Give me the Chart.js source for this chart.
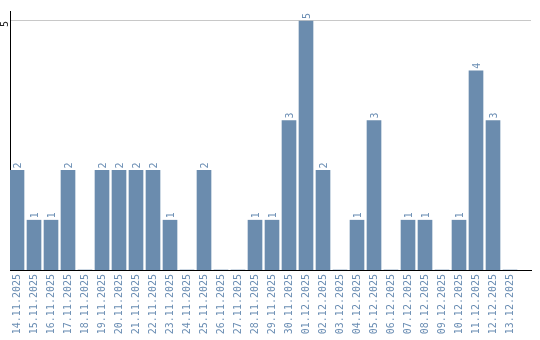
<!DOCTYPE html>
<html>
<head>
<meta charset="utf-8">
<script src="https://cdn.jsdelivr.net/npm/chart.js@4"></script>
<style>
  html, body { margin: 0; padding: 0; background: #fff; }
  #wrap { width: 540px; height: 340px; }
</style>
</head>
<body>
<div id="wrap"><canvas id="chart"></canvas></div>
<script>
const days = [
    "14.11.2025", "15.11.2025", "16.11.2025", "17.11.2025", "18.11.2025",
    "19.11.2025", "20.11.2025", "21.11.2025", "22.11.2025", "23.11.2025",
    "24.11.2025", "25.11.2025", "26.11.2025", "27.11.2025", "28.11.2025",
    "29.11.2025", "30.11.2025", "01.12.2025", "02.12.2025", "03.12.2025",
    "04.12.2025", "05.12.2025", "06.12.2025", "07.12.2025", "08.12.2025",
    "09.12.2025", "10.12.2025", "11.12.2025", "12.12.2025", "13.12.2025"
];
const counts = [2, 1, 1, 2, 0, 2, 2, 2, 2, 1, 0, 2, 0, 0, 1, 1, 3, 5, 2, 0, 1, 3, 0, 1, 1, 0, 1, 4, 3, 0];
const yTicks = [5];

const barColor = "#6b8cae";
const textColor = "#6a8db3";
const monoFont = { family: "'DejaVu Sans Mono', monospace", size: 10 };

// numbers over the bars, turned to read upwards
const valueLabels = {
    id: "valueLabels",
    afterDatasetsDraw(chart) {
        const ctx = chart.ctx;
        const meta = chart.getDatasetMeta(0);
        ctx.save();
        ctx.font = "10px 'DejaVu Sans Mono', monospace";
        ctx.fillStyle = textColor;
        ctx.textAlign = "left";
        ctx.textBaseline = "middle";
        meta.data.forEach((bar, i) => {
            if (!counts[i]) return;
            ctx.save();
            ctx.translate(bar.x + 1, bar.y - 2);
            ctx.rotate(-Math.PI / 2);
            ctx.fillText(String(counts[i]), 0, 0);
            ctx.restore();
        });
        ctx.restore();
    }
};

const points = counts.map((v, i) => ({ x: i, y: v }));

new Chart(document.getElementById("chart"), {
    type: "bar",
    data: {
        datasets: [{
            data: points,
            backgroundColor: barColor,
            borderWidth: 0,
            barThickness: 14
        }]
    },
    plugins: [valueLabels],
    options: {
        responsive: true,
        maintainAspectRatio: false,
        animation: false,
        layout: { padding: { top: 10, right: 9, left: 0, bottom: 0 } },
        plugins: {
            legend: { display: false },
            tooltip: { enabled: false }
        },
        scales: {
            x: {
                type: "linear",
                offset: false,
                min: -0.412,
                max: 30.235,
                afterBuildTicks: (scale) => {
                    scale.ticks = days.map((d, i) => ({ value: i }));
                },
                afterFit: (scale) => { scale.height = 70; },
                grid: { display: false, drawTicks: false },
                border: { display: true, color: "#000", width: 1 },
                ticks: {
                    autoSkip: false,
                    minRotation: 90,
                    maxRotation: 90,
                    padding: 4,
                    color: textColor,
                    font: monoFont,
                    callback: (v) => days[v]
                }
            },
            y: {
                min: 0,
                max: 5.2,
                afterBuildTicks: (scale) => {
                    scale.ticks = yTicks.map(v => ({ value: v }));
                },
                afterFit: (scale) => { scale.width = 10; },
                grid: { color: "#c8c8c8", drawTicks: false },
                border: { display: true, color: "#000", width: 1 },
                ticks: {
                    minRotation: 90,
                    maxRotation: 90,
                    crossAlign: "near",
                    padding: 5,
                    color: "#222",
                    font: { family: "'DejaVu Sans Mono', monospace", size: 10 }
                }
            }
        }
    }
});
</script>
</body>
</html>
